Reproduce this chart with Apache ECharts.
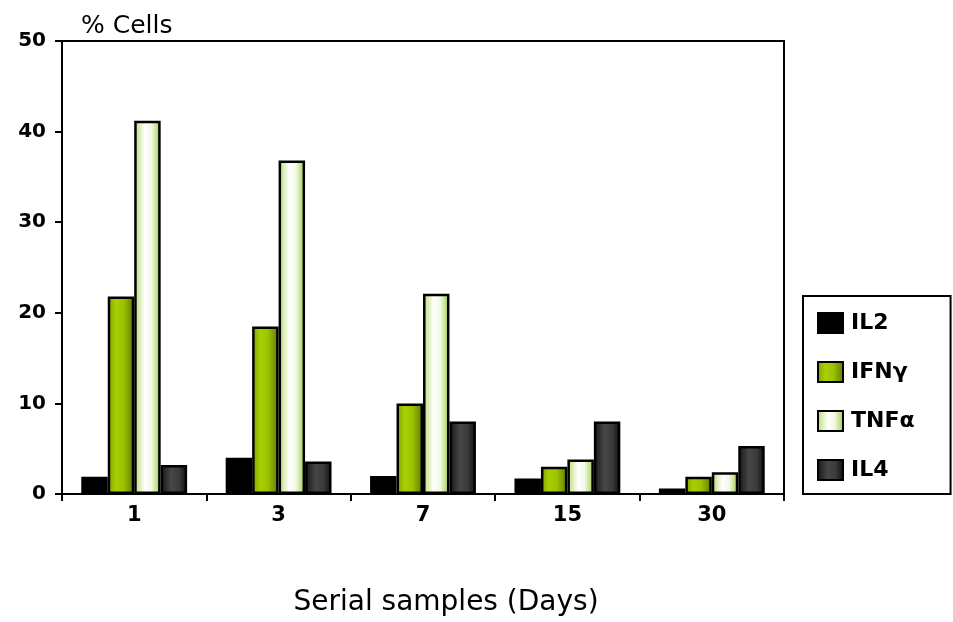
<!DOCTYPE html>
<html><head><meta charset="utf-8">
<script src="https://cdn.jsdelivr.net/npm/echarts@6/dist/echarts.min.js"></script>
<style>html,body{margin:0;padding:0;background:#fff}#c{width:953px;height:622px}</style>
</head><body><div id="c"></div>
<script>
const categories = ['1', '3', '7', '15', '30'];
const il2 = [1.9, 4.0, 2.0, 1.7, 0.6];
const ifng = [21.8, 18.5, 10.0, 3.0, 1.9];
const tnfa = [41.2, 36.8, 22.1, 3.8, 2.4];
const il4 = [3.2, 3.6, 8.0, 8.0, 5.3];
const yTicks = [0, 10, 20, 30, 40, 50];

const FONT = '"Comic Sans MS", "DejaVu Sans", sans-serif';
function grad(stops) {
  return { type: 'linear', x: 0, y: 0, x2: 1, y2: 0,
    colorStops: stops.map(s => ({ offset: s[0], color: s[1] })) };
}
const styles = {
  IL2: '#000000',
  IFN: grad([[0, '#7f9e00'], [0.3, '#a8d000'], [0.6, '#9cc200'], [1, '#5f7a00']]),
  TNF: grad([[0, '#b6da6c'], [0.4, '#ffffff'], [0.65, '#f2f9e4'], [1, '#9ccc48']]),
  IL4: grad([[0, '#141414'], [0.4, '#474747'], [0.7, '#3a3a3a'], [1, '#0c0c0c']])
};
function s(name, data, color) {
  return { name: name, type: 'bar', data: data, barGap: '0%', barCategoryGap: '26.7%',
    itemStyle: { color: color, borderColor: '#000', borderWidth: 2.5 } };
}
const chart = echarts.init(document.getElementById('c'), null, { renderer: 'canvas' });
chart.setOption({
  animation: false,
  title: [
    { text: '% Cells', left: 76, top: 9, textStyle: { fontFamily: FONT, fontSize: 25, fontWeight: 'normal', color: '#000' } },
    { text: 'Serial samples (Days)', left: 441, textAlign: 'center', top: 584, textStyle: { fontFamily: FONT, fontSize: 28, fontWeight: 'normal', color: '#000' } }
  ],
  grid: { left: 62, right: 169, top: 41, bottom: 128, show: true, borderColor: '#000', borderWidth: 2, backgroundColor: 'transparent' },
  legend: {
    orient: 'vertical', left: 803, top: 296,
    padding: [16, 36, 13, 14], itemGap: 27, itemWidth: 25, itemHeight: 20,
    icon: 'rect',
    borderColor: '#000', borderWidth: 2, backgroundColor: '#fff',
    textStyle: { fontFamily: FONT, fontSize: 22, fontWeight: 'bold', color: '#000', padding: [0, 0, 0, 3] },
    itemStyle: { borderColor: '#000', borderWidth: 2 },
    data: ['IL2', 'IFNγ', 'TNFα', 'IL4']
  },
  xAxis: {
    type: 'category', data: categories,
    axisLine: { lineStyle: { color: '#000', width: 2 } },
    axisTick: { show: true, length: 7, lineStyle: { color: '#000', width: 2 } },
    axisLabel: { fontFamily: FONT, fontSize: 21, fontWeight: 'bold', color: '#000', margin: 11 }
  },
  yAxis: {
    type: 'value', min: yTicks[0], max: yTicks[yTicks.length - 1], interval: 10,
    axisLine: { show: true, lineStyle: { color: '#000', width: 2 } },
    axisTick: { show: true, length: 7, lineStyle: { color: '#000', width: 2 } },
    splitLine: { show: false },
    axisLabel: { fontFamily: FONT, fontSize: 20, fontWeight: 'bold', color: '#000', margin: 16 }
  },
  series: [
    s('IL2', il2, styles.IL2),
    s('IFNγ', ifng, styles.IFN),
    s('TNFα', tnfa, styles.TNF),
    s('IL4', il4, styles.IL4)
  ]
});
</script></body></html>
